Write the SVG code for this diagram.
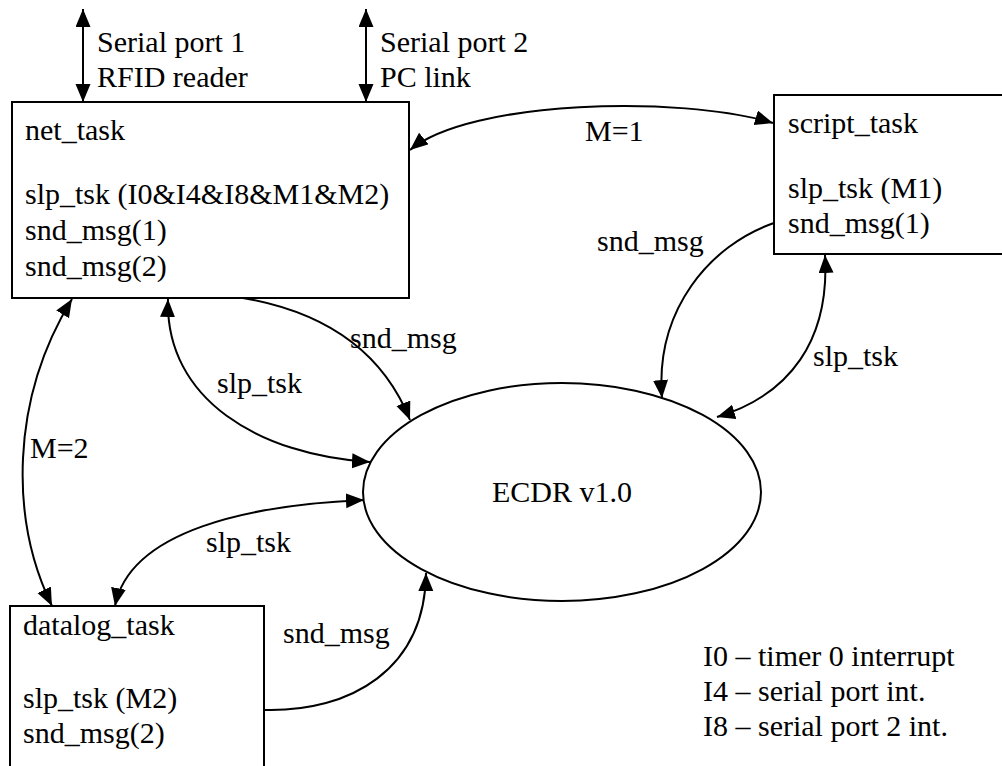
<svg xmlns="http://www.w3.org/2000/svg" width="1002" height="766" viewBox="0 0 1002 766" font-family="'Liberation Serif', 'Times New Roman', Times, 'DejaVu Serif', serif">
  <style>
    text { font-family: 'Liberation Serif', 'Times New Roman', Times, 'DejaVu Serif', serif; font-size: 30px; fill: #000; }
    .box { fill: #fff; stroke: #000; stroke-width: 2; }
    .edge { fill: none; stroke: #000; stroke-width: 2; }
    .both { marker-start: url(#head); marker-end: url(#head); }
    .one { marker-end: url(#head); }
  </style>
  <defs>
    <marker id="head" markerUnits="userSpaceOnUse" markerWidth="19" markerHeight="16" refX="18" refY="7.5" orient="auto-start-reverse">
      <path d="M0,0 L18,7.5 L0,15 z" fill="#000"/>
    </marker>
  </defs>
  <rect width="1002" height="766" fill="#fff"/>

  <g id="connectors">
    <!-- external serial links -->
    <line class="edge both" x1="83" y1="9" x2="83" y2="102"/>
    <line class="edge both" x1="366" y1="9" x2="366" y2="102"/>
    <!-- net_task <-> script_task -->
    <path class="edge both" d="M410,150 C470,100 680,95 773,123"/>
    <!-- net_task -> kernel -->
    <path class="edge one" d="M243,298 Q370,320 410,420"/>
    <path class="edge both" d="M168,299 C165,400 260,455 370,462"/>
    <!-- net_task <-> datalog_task -->
    <path class="edge both" d="M72,299 C10,400 10,520 52,606"/>
    <!-- datalog_task <-> kernel -->
    <path class="edge both" d="M364,500 C250,505 130,530 115,606"/>
    <path class="edge one" d="M265,710 C350,712 425,670 426,573"/>
    <!-- script_task <-> kernel -->
    <path class="edge one" d="M774,223 C710,245 655,310 662,398"/>
    <path class="edge both" d="M825,255 C830,340 790,395 717,417"/>
  </g>

  <g id="edge-labels">
    <text x="97" y="52">Serial port 1</text>
    <text x="97" y="87">RFID reader</text>
    <text x="380" y="52">Serial port 2</text>
    <text x="380" y="87">PC link</text>
    <text x="585" y="141">M=1</text>
    <text x="350" y="348">snd_msg</text>
    <text x="217" y="393">slp_tsk</text>
    <text x="30" y="458">M=2</text>
    <text x="206" y="552">slp_tsk</text>
    <text x="283" y="643">snd_msg</text>
    <text x="597" y="251">snd_msg</text>
    <text x="813" y="366">slp_tsk</text>
  </g>

  <g id="net_task">
    <rect class="box" x="12" y="102" width="397" height="196"/>
    <text x="25" y="140">net_task</text>
    <text x="25" y="204">slp_tsk (I0&amp;I4&amp;I8&amp;M1&amp;M2)</text>
    <text x="25" y="240">snd_msg(1)</text>
    <text x="25" y="276">snd_msg(2)</text>
  </g>

  <g id="script_task">
    <rect class="box" x="774" y="95" width="232" height="159"/>
    <text x="788" y="133">script_task</text>
    <text x="788" y="198">slp_tsk (M1)</text>
    <text x="788" y="233">snd_msg(1)</text>
  </g>

  <g id="datalog_task">
    <rect class="box" x="10" y="606" width="254" height="170"/>
    <text x="23" y="635">datalog_task</text>
    <text x="23" y="708">slp_tsk (M2)</text>
    <text x="23" y="743">snd_msg(2)</text>
  </g>

  <g id="ecdr">
    <ellipse class="box" cx="562" cy="492" rx="199" ry="109"/>
    <text x="562" y="502" text-anchor="middle">ECDR v1.0</text>
  </g>

  <g id="legend">
    <text x="703" y="666">I0 – timer 0 interrupt</text>
    <text x="703" y="701">I4 – serial port int.</text>
    <text x="703" y="736">I8 – serial port 2 int.</text>
  </g>
</svg>
